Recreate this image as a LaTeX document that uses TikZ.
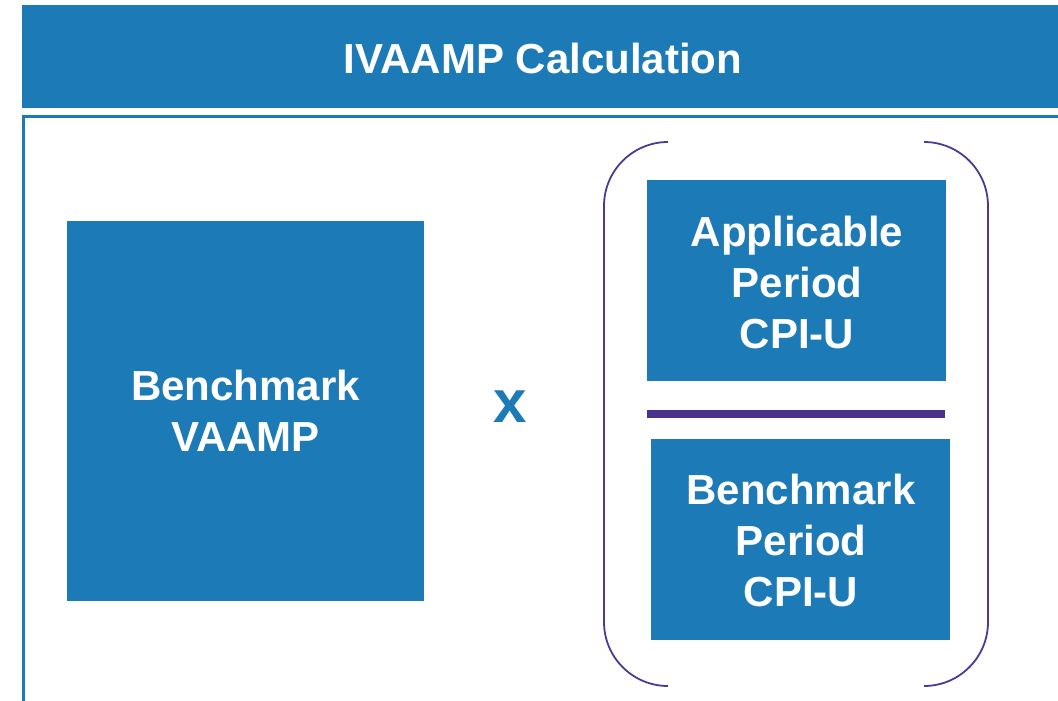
\documentclass[tikz,border=0pt]{standalone}
\usepackage{fontspec}
\setmainfont{Liberation Sans}
\definecolor{blu}{RGB}{28,122,183}
\definecolor{purp}{RGB}{72,50,140}
\definecolor{paren}{RGB}{74,58,150}
\begin{document}
\begin{tikzpicture}[x=1pt,y=-1pt,
  bluebox/.style={fill=blu,draw=none,inner sep=0pt,text=white,align=center,
    font=\fontsize{42}{51}\selectfont\bfseries},
  parenline/.style={draw=paren,line width=1.8pt,rounded corners=64pt}]
\useasboundingbox (0,0) rectangle (1058,701);
% header
\node[bluebox,anchor=north west,minimum width=1040pt,minimum height=103pt] (hdr) at (22,5) {};
\node[text=white,font=\fontsize{42}{51}\selectfont\bfseries] (title) at (543,58) {IVAAMP Calculation};
% frame
\draw[blu,line width=3pt] (23.5,701) -- (23.5,116.5) -- (1062,116.5);
% left box
\node[bluebox,anchor=north west,minimum width=357pt,minimum height=380pt] (bench) at (67,221) {};
\node[text=white,align=center,font=\fontsize{42}{51}\selectfont\bfseries] (benchtxt) at (245.5,411) {Benchmark\\VAAMP};
% times
\node[text=blu,font=\fontsize{60}{60}\selectfont\bfseries] (times) at (510,407) {x};
% right top box
\node[bluebox,anchor=north west,minimum width=299pt,minimum height=201pt] (app) at (647,180) {};
\node[text=white,align=center,font=\fontsize{42}{51}\selectfont\bfseries] (apptxt) at (797,282) {Applicable\\Period\\CPI-U};
% divider
\node[fill=purp,inner sep=0pt,anchor=north west,minimum width=298pt,minimum height=8pt] (div) at (647,410) {};
% right bottom box
\node[bluebox,anchor=north west,minimum width=299pt,minimum height=201pt] (bp) at (651,439) {};
\node[text=white,align=center,font=\fontsize{42}{51}\selectfont\bfseries] (bptxt) at (801,540) {Benchmark\\Period\\CPI-U};
% parentheses
\coordinate (lt) at (668,142);
\coordinate (lb) at (668,686);
\coordinate (rt) at (924,142);
\coordinate (rb) at (924,686);
\draw[parenline] (lt) -- (604,142) -- (604,686) -- (lb);
\draw[parenline] (rt) -- (988,142) -- (988,686) -- (rb);
\end{tikzpicture}
\end{document}
